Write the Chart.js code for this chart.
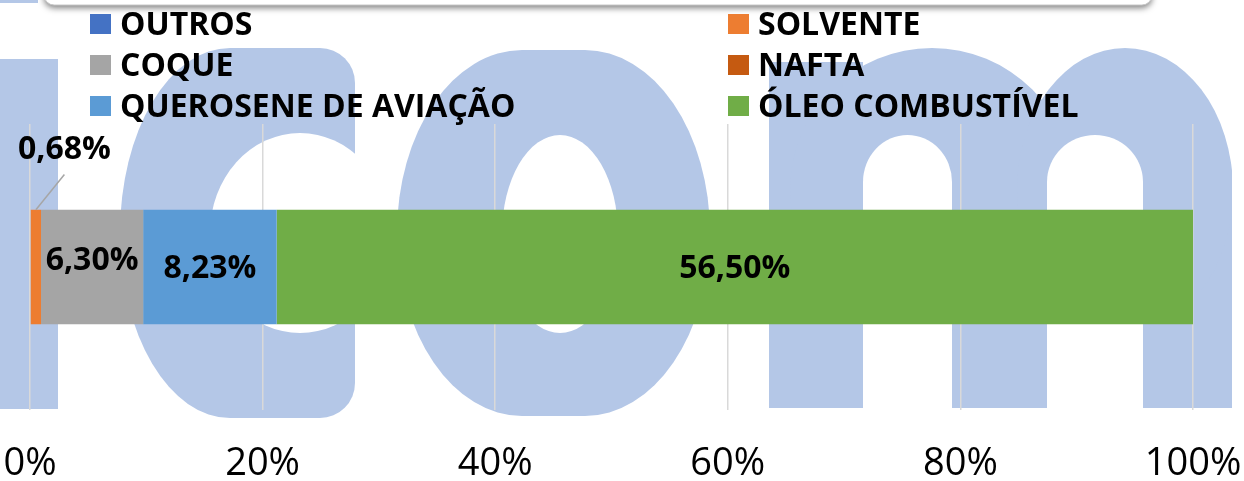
<!DOCTYPE html>
<html lang="pt">
<head>
<meta charset="utf-8">
<title>Derivados</title>
<script src="https://cdn.jsdelivr.net/npm/chart.js@4.4.1/dist/chart.umd.min.js"></script>
<style>
  html, body { margin: 0; padding: 0; background: #fff; }
  #wrap { position: relative; width: 1244px; height: 481px; overflow: hidden; }
</style>
</head>
<body>
<div id="wrap"><canvas id="chart" width="1244" height="481"></canvas></div>
<script>
// Dados do gráfico
const categorias = ['Derivados'];
const series = ['OUTROS', 'SOLVENTE', 'COQUE', 'NAFTA', 'QUEROSENE DE AVIAÇÃO', 'ÓLEO COMBUSTÍVEL'];
const valores = [0, 0.68, 6.30, 0, 8.23, 56.50];
const cores = ['#4472c4', '#ed7d31', '#a5a5a5', '#c55a11', '#5b9bd5', '#70ad47'];
const ticksX = ['0%', '20%', '40%', '60%', '80%', '100%'];

// barra 100% empilhada: cada valor como parte do total
const total = valores.reduce((a, b) => a + b, 0);

function formata(v) {
    return v.toFixed(2).replace('.', ',') + '%';
}

// marca d'água "icom" desenhada no fundo
const marcaDagua = {
    id: 'marcaDagua',
    beforeDraw(chart) {
        const ctx = chart.ctx;
        ctx.save();
        ctx.fillStyle = '#b4c7e7';
        // i
        ctx.fillRect(0, 59, 58, 350);
        ctx.fillRect(0, 0, 38, 3);
        // c
        ctx.beginPath();
        ctx.roundRect(120, 48, 235, 370, [{ x: 110, y: 185 }, { x: 35, y: 35 }, { x: 35, y: 35 }, { x: 110, y: 185 }]);
        ctx.fill();
        // o
        ctx.beginPath();
        ctx.roundRect(397, 50, 313, 366, { x: 125, y: 183 });
        ctx.fill();
        // m
        ctx.fillRect(769, 62, 94, 346);
        ctx.fillRect(769, 190, 463, 218);
        ctx.save();
        ctx.beginPath(); ctx.rect(769, 0, 463, 481); ctx.clip();
        ctx.beginPath(); ctx.ellipse(932, 190, 142, 142, 0, 0, Math.PI * 2); ctx.fill();
        ctx.beginPath(); ctx.ellipse(1125, 190, 108, 142, 0, 0, Math.PI * 2); ctx.fill();
        ctx.restore();

        // vazados
        ctx.fillStyle = '#fff';
        ctx.save();
        ctx.beginPath(); ctx.rect(0, 0, 355, 481); ctx.clip();
        ctx.beginPath(); ctx.ellipse(300, 233, 90, 100, 0, 0, Math.PI * 2); ctx.fill();
        ctx.restore();
        ctx.beginPath(); ctx.ellipse(560, 234, 58, 99, 0, 0, Math.PI * 2); ctx.fill();
        ctx.beginPath(); ctx.ellipse(907.5, 182, 44.5, 47, 0, 0, Math.PI * 2); ctx.fill();
        ctx.fillRect(863, 182, 89, 230);
        ctx.beginPath(); ctx.ellipse(1095, 182, 48, 47, 0, 0, Math.PI * 2); ctx.fill();
        ctx.fillRect(1047, 182, 96, 230);

        // caixa do título cortada no topo
        ctx.shadowColor = 'rgba(0,0,0,0.5)';
        ctx.shadowBlur = 6;
        ctx.shadowOffsetY = 3;
        ctx.fillStyle = '#fff';
        ctx.beginPath(); ctx.roundRect(44, -30, 1108, 35, 10); ctx.fill();
        ctx.shadowColor = 'transparent';
        ctx.strokeStyle = '#c8c8c8';
        ctx.lineWidth = 1;
        ctx.stroke();
        ctx.restore();
    }
};

// rótulos de dados
const rotulos = {
    id: 'rotulos',
    afterDatasetsDraw(chart) {
        const ctx = chart.ctx;
        ctx.save();
        ctx.font = 'bold 32px "Open Sans"';
        ctx.textAlign = 'center';
        ctx.textBaseline = 'middle';
        chart.data.datasets.forEach((ds, i) => {
            const v = valores[i];
            if (!v) return;
            const bar = chart.getDatasetMeta(i).data[0];
            const p = bar.getProps(['x', 'y', 'base', 'height'], true);
            const cx = (p.x + p.base) / 2;
            const cfg = ds.rotulo || {};
            const lx = cx + (cfg.dx || 0);
            const ly = p.y + 2 + (cfg.dy || 0);
            if (cfg.linha) {
                ctx.strokeStyle = '#a6a6a6';
                ctx.lineWidth = 1.5;
                ctx.beginPath();
                ctx.moveTo(cx, p.y - p.height / 2);
                ctx.lineTo(lx, ly + cfg.linha);
                ctx.stroke();
            }
            ctx.fillStyle = '#000';
            ctx.fillText(formata(v), lx, ly);
        });
        ctx.restore();
    }
};

// legenda em duas colunas
const legenda = {
    id: 'legenda',
    afterDraw(chart) {
        const ctx = chart.ctx;
        const itens = Chart.defaults.plugins.legend.labels.generateLabels(chart);
        const colX = [90, 728];
        ctx.save();
        ctx.font = 'bold 32px "Open Sans"';
        ctx.textBaseline = 'middle';
        ctx.textAlign = 'left';
        itens.forEach((it, k) => {
            const x = colX[k % 2];
            const yc = 24 + Math.floor(k / 2) * 41;
            ctx.fillStyle = it.fillStyle;
            ctx.fillRect(x, yc - 10, 21, 20);
            ctx.fillStyle = '#000';
            ctx.fillText(it.text, x + 30, yc + 2);
        });
        ctx.restore();
    }
};

const datasets = series.map((nome, i) => ({
    label: nome,
    data: [valores[i] / total * 100],
    backgroundColor: cores[i],
    borderWidth: 0,
    barPercentage: 0.4,
    categoryPercentage: 1
}));
// posições dos rótulos (como no original)
datasets[1].rotulo = { dx: 28.5, dy: -119.5, linha: 25 };
datasets[2].rotulo = { dy: -8 };

new Chart(document.getElementById('chart'), {
    type: 'bar',
    data: { labels: categorias, datasets: datasets },
    options: {
        indexAxis: 'y',
        responsive: false,
        animation: false,
        layout: { padding: { top: 124, left: 30, right: 51, bottom: 0 } },
        scales: {
            x: {
                stacked: true,
                min: 0,
                max: 100,
                ticks: {
                    stepSize: 20,
                    padding: 31,
                    color: '#000',
                    font: { family: '"Open Sans"', size: 38 },
                    callback: (v, i) => ticksX[i]
                },
                grid: { color: '#d9d9d9', lineWidth: 1.5, drawTicks: false },
                border: { display: false },
                afterFit: axis => {
                    axis.height = 71;
                    axis.paddingLeft = 0;
                    axis.paddingRight = 0;
                }
            },
            y: { stacked: true, display: false }
        },
        plugins: {
            legend: { display: false },
            tooltip: { enabled: false }
        }
    },
    plugins: [marcaDagua, rotulos, legenda]
});
</script>
</body>
</html>
